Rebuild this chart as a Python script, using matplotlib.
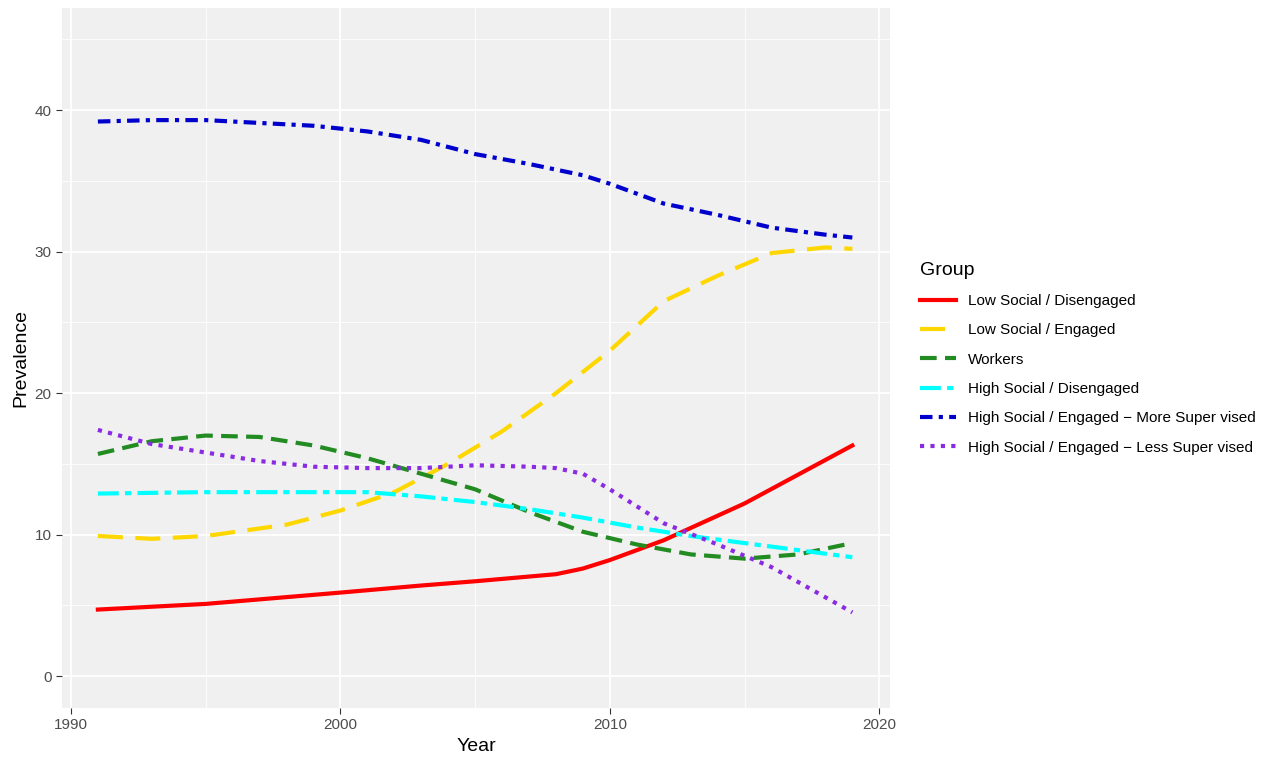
import matplotlib
matplotlib.use("Agg")
import matplotlib.pyplot as plt
plt.rcParams['font.family'] = ['Liberation Sans', 'DejaVu Sans']

red_x = [1991, 1995, 2000, 2003, 2005, 2008, 2009, 2010, 2012, 2015, 2019]
red_y = [4.7, 5.1, 5.9, 6.4, 6.7, 7.2, 7.6, 8.2, 9.6, 12.2, 16.3]
yel_x = [1991, 1993, 1995, 1998, 2000, 2002, 2004, 2006, 2008, 2010, 2012, 2014, 2016, 2018, 2019]
yel_y = [9.9, 9.7, 9.9, 10.7, 11.7, 13.0, 15.0, 17.3, 20.0, 23.0, 26.5, 28.3, 29.9, 30.3, 30.2]
grn_x = [1991, 1993, 1995, 1997, 1999, 2001, 2003, 2005, 2007, 2009, 2011, 2013, 2015, 2017, 2019]
grn_y = [15.7, 16.6, 17.0, 16.9, 16.3, 15.4, 14.3, 13.2, 11.6, 10.2, 9.3, 8.6, 8.3, 8.6, 9.4]
cyn_x = [1991, 1995, 1998, 2001, 2003, 2005, 2007, 2009, 2011, 2013, 2015, 2017, 2019]
cyn_y = [12.9, 13.0, 13.0, 13.0, 12.7, 12.3, 11.8, 11.2, 10.5, 9.9, 9.4, 8.9, 8.4]
blu_x = [1991, 1993, 1995, 1997, 1999, 2001, 2003, 2005, 2007, 2009, 2010, 2012, 2014, 2016, 2018, 2019]
blu_y = [39.2, 39.3, 39.3, 39.1, 38.9, 38.5, 37.9, 36.9, 36.2, 35.4, 34.8, 33.4, 32.6, 31.7, 31.2, 31.0]
pur_x = [1991, 1993, 1995, 1997, 1999, 2001, 2003, 2005, 2007, 2008, 2009, 2010, 2012, 2014, 2016, 2019]
pur_y = [17.4, 16.4, 15.8, 15.2, 14.8, 14.7, 14.7, 14.9, 14.8, 14.7, 14.3, 13.2, 10.8, 9.3, 7.7, 4.5]

labels = ["Low Social / Disengaged", "Low Social / Engaged", "Workers",
          "High Social / Disengaged", "High Social / Engaged \u2212 More Super vised",
          "High Social / Engaged \u2212 Less Super vised"]

fig = plt.figure(figsize=(12.77, 7.6), dpi=100)
ax = fig.add_axes([0.0486, 0.0684, 0.6484, 0.9206])
ax.set_facecolor("#F0F0F0")
ax.grid(True, which="major", color="white", lw=1.3)
ax.set_xticks([1995, 2005, 2015], minor=True)
ax.set_yticks([5, 15, 25, 35, 45], minor=True)
ax.grid(True, which="minor", color="white", lw=0.6)
ax.set_axisbelow(True)
for s in ax.spines.values():
    s.set_visible(False)

lw = 3
ax.plot(red_x, red_y, color="red", lw=lw, ls="-", label=labels[0])
ax.plot(yel_x, yel_y, color="gold", lw=lw, ls=(0, (6, 3)), label=labels[1])
ax.plot(grn_x, grn_y, color="forestgreen", lw=lw, ls=(0, (4, 2)), label=labels[2])
ax.plot(cyn_x, cyn_y, color="cyan", lw=lw, ls=(0, (5, 1.5, 1.5, 1.5)), label=labels[3])
ax.plot(blu_x, blu_y, color="mediumblue", lw=lw, ls=(0, (3, 1.5, 1, 1.5)), label=labels[4])
ax.plot(pur_x, pur_y, color="blueviolet", lw=lw, ls=(0, (1, 1.5)), label=labels[5])

ax.set_xlim(1989.67, 2020.4)
ax.set_ylim(-2.26, 47.2)
ax.set_xticks([1990, 2000, 2010, 2020])
ax.set_yticks([0, 10, 20, 30, 40])
ax.tick_params(which="major", length=4, color="#333333", labelsize=11, labelcolor="#4D4D4D")
ax.tick_params(which="minor", length=0)
ax.set_xlabel("Year", fontsize=14)
ax.set_ylabel("Prevalence", fontsize=14)

leg = ax.legend(title="Group", loc="center left", bbox_to_anchor=(1.02, 0.5),
                frameon=False, fontsize=11, title_fontsize=14, handlelength=2.3,
                labelspacing=1.0)
leg._legend_box.align = "left"
fig.savefig("out.png", dpi=100)
